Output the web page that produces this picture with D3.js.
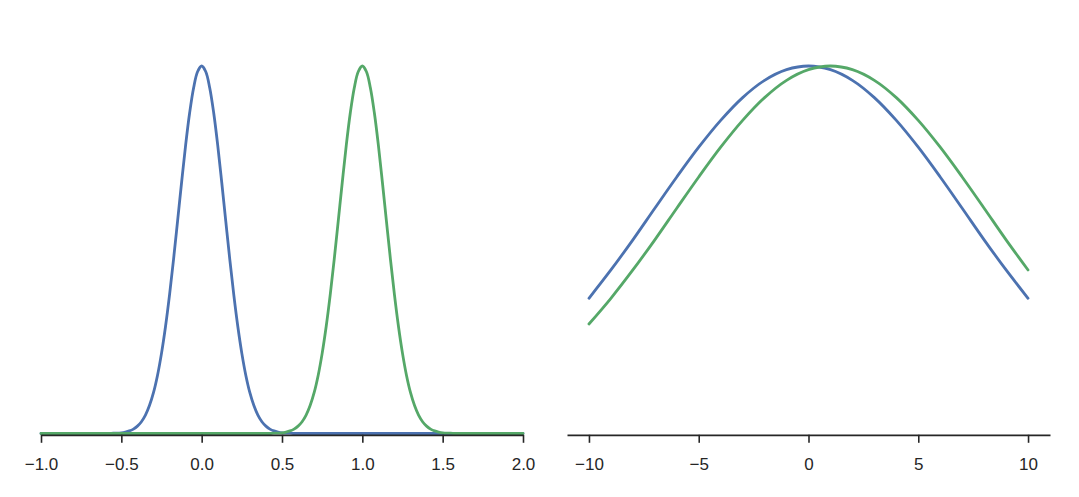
<!DOCTYPE html>
<html>
<head>
<meta charset="utf-8">
<script src="https://cdn.jsdelivr.net/npm/d3@7"></script>
<style>
  html, body { margin: 0; padding: 0; background: #fff; }
  svg { display: block; }
</style>
</head>
<body>
<svg id="chart" width="1079" height="497"></svg>
<script>
// ---- Left panel data (x from -1 to 2, step 0.025) ----
const leftX = [
  -1.000,-0.975,-0.950,-0.925,-0.900,-0.875,-0.850,-0.825,-0.800,-0.775,-0.750,-0.725,-0.700,-0.675,-0.650,-0.625,-0.600,
  -0.575,-0.550,-0.525,-0.500,-0.475,-0.450,-0.425,-0.400,-0.375,-0.350,-0.325,-0.300,-0.275,-0.250,-0.225,-0.200,-0.175,-0.150,-0.125,-0.100,-0.075,-0.050,-0.025,
  0.000,0.025,0.050,0.075,0.100,0.125,0.150,0.175,0.200,0.225,0.250,0.275,0.300,0.325,0.350,0.375,0.400,0.425,0.450,0.475,0.500,0.525,0.550,0.575,
  0.600,0.625,0.650,0.675,0.700,0.725,0.750,0.775,0.800,0.825,0.850,0.875,0.900,0.925,0.950,0.975,
  1.000,1.025,1.050,1.075,1.100,1.125,1.150,1.175,1.200,1.225,1.250,1.275,1.300,1.325,1.350,1.375,1.400,1.425,1.450,1.475,1.500,1.525,1.550,1.575,
  1.600,1.625,1.650,1.675,1.700,1.725,1.750,1.775,1.800,1.825,1.850,1.875,1.900,1.925,1.950,1.975,2.000];
const leftBlue = [
  0,0,0,0,0,0,0,0,0,0,0,0,0,0,0,0,0,
  0,0.001,0.001,0.002,0.004,0.007,0.012,0.020,0.032,0.050,0.076,0.111,0.158,0.218,0.291,0.377,0.474,0.578,0.683,0.784,0.872,0.941,0.985,
  1.000,0.985,0.941,0.872,0.784,0.683,0.578,0.474,0.377,0.291,0.218,0.158,0.111,0.076,0.050,0.032,0.020,0.012,0.007,0.004,0.002,0.001,0.001,0,
  0,0,0,0,0,0,0,0,0,0,0,0,0,0,0,0,
  0,0,0,0,0,0,0,0,0,0,0,0,0,0,0,0,0,0,0,0,0,0,0,0,
  0,0,0,0,0,0,0,0,0,0,0,0,0,0,0,0,0];
const leftGreen = [
  0,0,0,0,0,0,0,0,0,0,0,0,0,0,0,0,0,
  0,0,0,0,0,0,0,0,0,0,0,0,0,0,0,0,0,0,0,0,0,0,0,
  0,0,0,0,0,0,0,0,0,0,0,0,0,0,0,0,0,0,0.001,0.001,0.002,0.004,0.007,0.012,
  0.020,0.032,0.050,0.076,0.111,0.158,0.218,0.291,0.377,0.474,0.578,0.683,0.784,0.872,0.941,0.985,
  1.000,0.985,0.941,0.872,0.784,0.683,0.578,0.474,0.377,0.291,0.218,0.158,0.111,0.076,0.050,0.032,0.020,0.012,0.007,0.004,0.002,0.001,0.001,0,
  0,0,0,0,0,0,0,0,0,0,0,0,0,0,0,0,0];
const leftTicks = [-1.0,-0.5,0.0,0.5,1.0,1.5,2.0];

// ---- Right panel data ----
const rightX = [-10,-9,-8,-7,-6,-5,-4,-3,-2,-1,0,1,2,3,4,5,6,7,8,9,10];
const rightBlue = [0.368,0.445,0.527,0.613,0.698,0.779,0.852,0.914,0.961,0.990,1.000,0.990,0.961,0.914,0.852,0.779,0.698,0.613,0.527,0.445,0.368];
const rightGreen = [0.298,0.368,0.445,0.527,0.613,0.698,0.779,0.852,0.914,0.961,0.990,1.000,0.990,0.961,0.914,0.852,0.779,0.698,0.613,0.527,0.445];
const rightTicks = [-10,-5,0,5,10];

const BLUE = "#4C72B0", GREEN = "#55A868", INK = "#262626";

const svg = d3.select("#chart");
const y = d3.scaleLinear().domain([0, 1]).range([433.5, 66]);

function panel(xDomain, xRange, xs, series, ticks, fmt) {
  const x = d3.scaleLinear().domain(xDomain).range(xRange);
  const g = svg.append("g");
  const line = d3.line().x(d => x(d[0])).y(d => y(d[1])).curve(d3.curveCatmullRom.alpha(0.5));
  series.forEach(s => {
    g.append("path")
      .datum(xs.map((v, i) => [v, s.values[i]]))
      .attr("fill", "none")
      .attr("stroke", s.color)
      .attr("stroke-width", 2.8)
      .attr("stroke-linejoin", "round")
      .attr("stroke-linecap", "round")
      .attr("d", line);
  });
  const axis = d3.axisBottom(x).tickValues(ticks).tickSizeInner(8).tickSizeOuter(0).tickPadding(15.5)
    .tickFormat(fmt);
  const ag = g.append("g").attr("transform", "translate(0,434.8)").call(axis);
  ag.attr("font-family", "'Liberation Sans', Arial, sans-serif").attr("font-size", 17);
  ag.select(".domain").attr("stroke", INK).attr("stroke-width", 1.8);
  ag.selectAll(".tick line").attr("stroke", INK).attr("stroke-width", 1.6);
  ag.selectAll(".tick text").attr("fill", INK);
}

panel([-1, 2], [41, 523], leftX,
  [{values: leftBlue, color: BLUE}, {values: leftGreen, color: GREEN}],
  leftTicks, d3.format(".1f"));

panel([-11, 11], [567, 1050], rightX,
  [{values: rightBlue, color: BLUE}, {values: rightGreen, color: GREEN}],
  rightTicks, d3.format("d"));
</script>
</body>
</html>
